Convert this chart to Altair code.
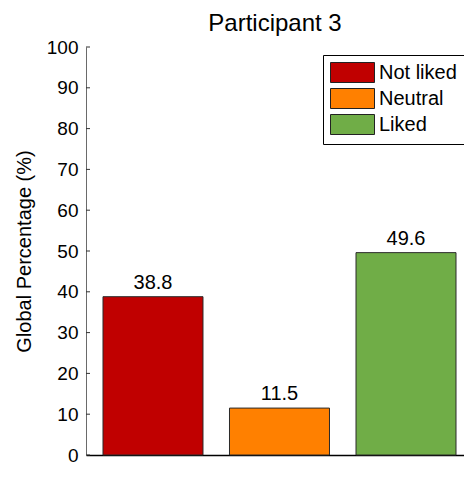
import altair as alt
import pandas as pd

categories = ["Not liked", "Neutral", "Liked"]
values = [38.8, 11.5, 49.6]
colors = ["#C00000", "#FF8000", "#70AD47"]
y_ticks = [0, 10, 20, 30, 40, 50, 60, 70, 80, 90, 100]

df = pd.DataFrame({"cat": categories, "val": values})
ticks_df = pd.DataFrame({"t": y_ticks})

FONT = "Liberation Sans"

xscale = alt.Scale(domain=categories, paddingInner=0.2095, paddingOuter=0.0988,
                   align=0.68)
yscale = alt.Scale(domain=[0, 100])

bars = alt.Chart(df).mark_bar(stroke="#2a2a2a", strokeWidth=1).encode(
    x=alt.X("cat:N", scale=xscale, sort=categories,
            axis=alt.Axis(labels=False, ticks=False, title=None,
                          domainColor="black", domainWidth=1.5)),
    y=alt.Y("val:Q", scale=yscale,
            axis=alt.Axis(values=y_ticks, ticks=False, grid=False,
                          title="Global Percentage (%)",
                          labelFontSize=19, labelFont=FONT, labelColor="black",
                          labelPadding=8, titleFontSize=20, titleFont=FONT,
                          titleFontWeight="normal", titleColor="black",
                          titlePadding=12, domainColor="#6a6a6a", domainWidth=1)),
    color=alt.Color("cat:N", sort=categories,
                    scale=alt.Scale(domain=categories, range=colors),
                    legend=alt.Legend(
                        title=None, orient="none", legendX=237, legendY=8,
                        strokeColor="black", fillColor="white", padding=7,
                        symbolType="M-1,-1H3.4V1H-1Z", symbolSize=400,
                        symbolStrokeColor="#222", symbolStrokeWidth=1,
                        symbolOpacity=1, labelOffset=28, rowPadding=1,
                        labelFontSize=20, labelFont=FONT, labelColor="black")),
)

labels = alt.Chart(df).mark_text(baseline="bottom", dy=-4, fontSize=20,
                                 font=FONT, color="black").encode(
    x=alt.X("cat:N", scale=xscale, sort=categories),
    y=alt.Y("val:Q", scale=yscale),
    text=alt.Text("val:Q", format=".1f"),
)

tick_marks = alt.Chart(ticks_df).mark_rule(color="#333", strokeWidth=1).encode(
    x=alt.value(0), x2=alt.value(4),
    y=alt.Y("t:Q", scale=yscale),
)

chart = alt.layer(bars, labels, tick_marks).properties(
    width=378, height=408,
    title=alt.TitleParams("Participant 3", fontSize=24, font=FONT,
                          fontWeight="normal", color="black", anchor="middle",
                          offset=2),
    autosize=alt.AutoSizeParams(type="none"),
    padding={"left": 78, "top": 39, "right": 0, "bottom": 10},
).configure_view(stroke=None)

chart.save("out.html", embed_options={"renderer": "svg", "actions": False})
